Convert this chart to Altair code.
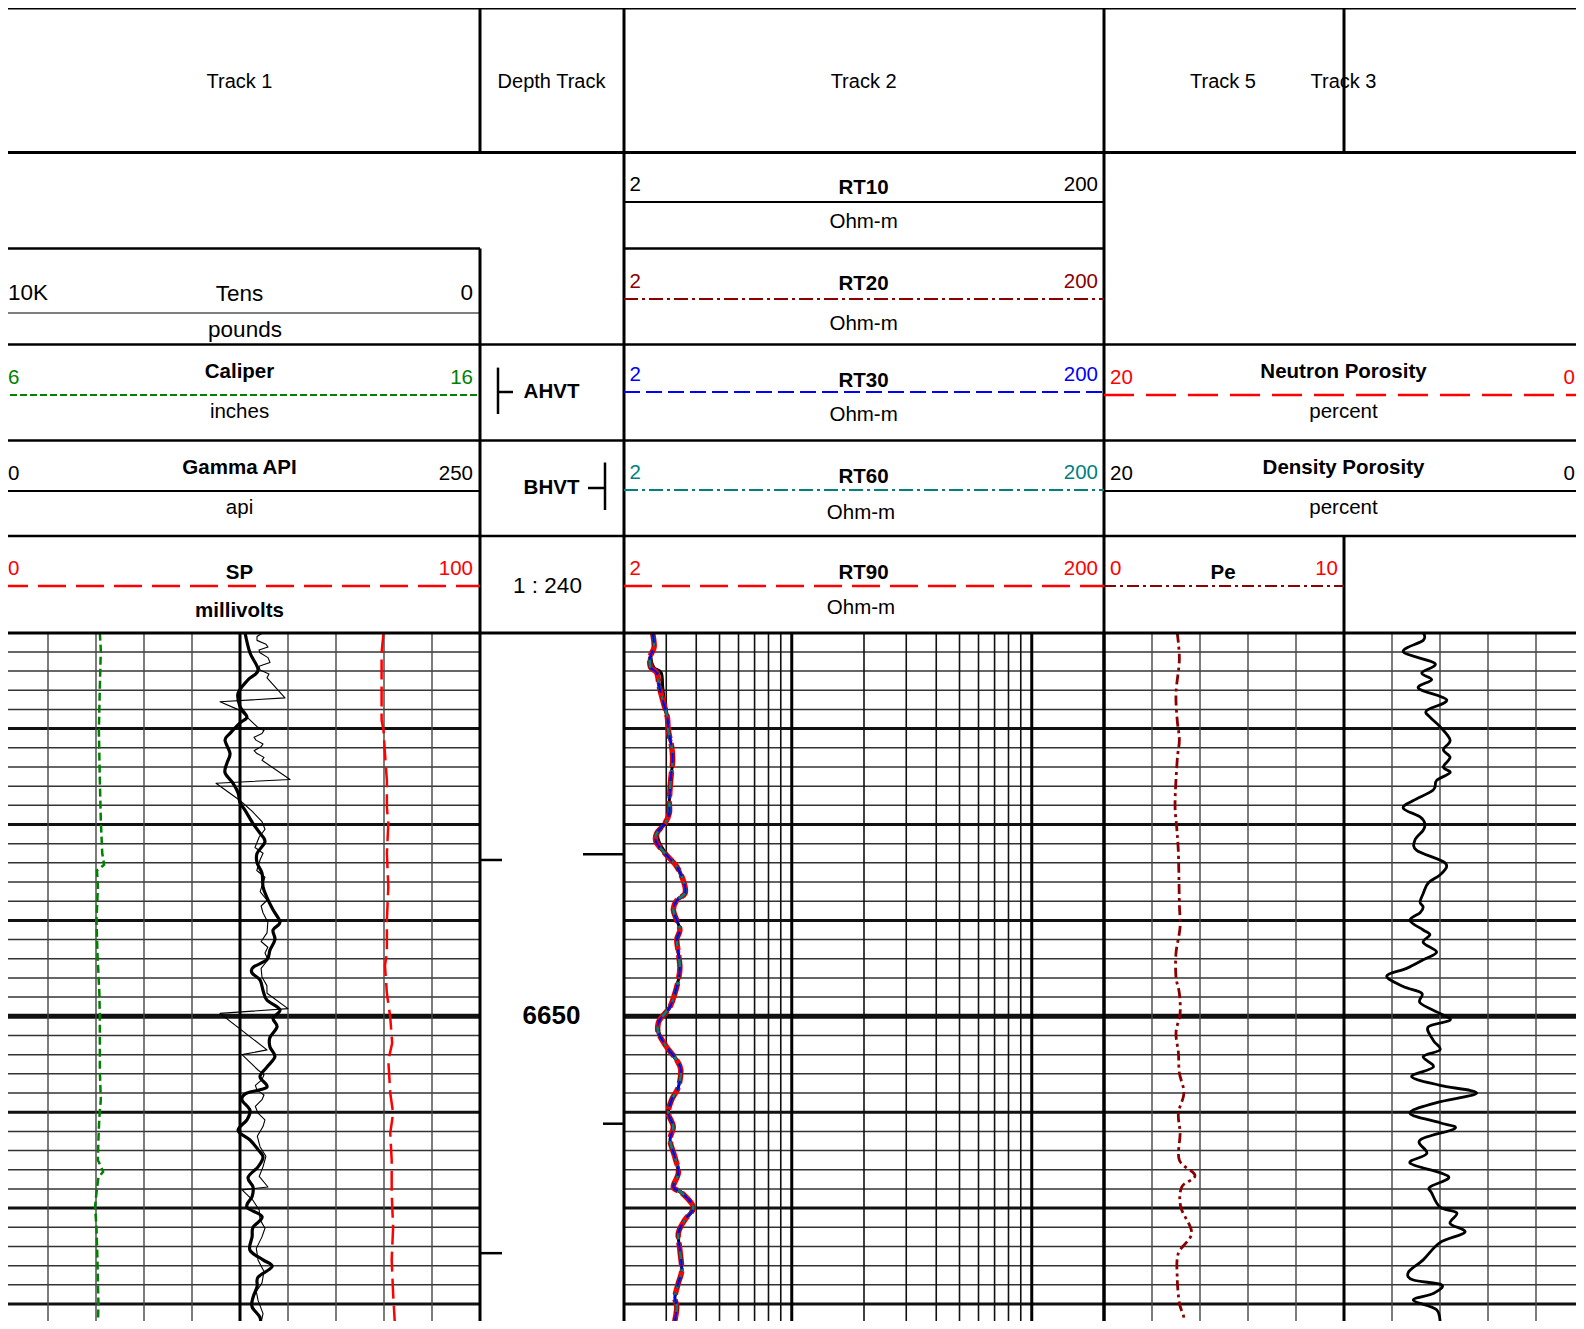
import altair as alt
import pandas as pd

# ---------------- page layout (reference pixels; page margin offset) ----------------
OFF = 8
W, H = 1568, 1313
FONT = "Liberation Sans"


def L(v):
    return v - OFF


BODY_TOP = 632.7
PX_PER_FT = 9.59

GREEN, RED, DARKRED, BLUE, TEAL = "#008000", "#ff0000", "#8b0000", "#0000ff", "#008080"

# ---------------- data: depths (ft) and curve values ----------------
rt_depth = [6610.0, 6611.5, 6612.5, 6613.6, 6614.2, 6615.7, 6617.3, 6618.8, 6620.2, 6621.9,
            6623.3, 6625.4, 6627.5, 6628.8, 6629.9, 6630.9, 6631.8, 6633.0, 6634.4, 6636.1,
            6637.2, 6637.9, 6638.9, 6640.0, 6641.0, 6642.0, 6643.4, 6644.9, 6646.2, 6647.6,
            6649.0, 6650.1, 6650.7, 6651.7, 6653.2, 6654.6, 6655.6, 6657.4, 6658.7, 6660.1,
            6661.5, 6662.9, 6664.7, 6666.3, 6667.8, 6668.4, 6669.9, 6671.2, 6672.6, 6674.4,
            6676.5, 6677.8, 6679.3, 6680.3, 6681.7, 6682.4]
rt90 = [2.63, 2.67, 2.57, 2.58, 2.74, 2.81, 2.92, 3.03, 3.06, 3.16,
        3.19, 3.13, 3.09, 3.09, 2.96, 2.74, 2.72, 2.96, 3.32, 3.56,
        3.59, 3.32, 3.21, 3.32, 3.42, 3.32, 3.37, 3.42, 3.37, 3.26,
        3.11, 2.87, 2.78, 2.78, 3.01, 3.32, 3.45, 3.37, 3.16, 3.06,
        3.21, 3.11, 3.26, 3.37, 3.21, 3.48, 3.89, 3.59, 3.37, 3.42,
        3.48, 3.37, 3.26, 3.32, 3.26, 3.21]
rt10 = [2.63, 2.67, 2.59, 2.66, 2.86, 2.90, 2.95, 3.03, 3.06, 3.16,
        3.19, 3.13, 3.09, 3.09, 2.96, 2.77, 2.80, 2.99, 3.32, 3.56,
        3.59, 3.32, 3.21, 3.32, 3.42, 3.32, 3.37, 3.42, 3.37, 3.26,
        3.11, 2.89, 2.80, 2.80, 3.01, 3.32, 3.45, 3.37, 3.16, 3.06,
        3.21, 3.11, 3.26, 3.37, 3.21, 3.48, 3.89, 3.59, 3.37, 3.42,
        3.48, 3.37, 3.26, 3.32, 3.26, 3.21]

gr_depth = [6610.0, 6612.1, 6613.9, 6614.9, 6616.3, 6617.7, 6618.8, 6619.4, 6620.5, 6621.2,
            6622.6, 6623.6, 6624.6, 6625.7, 6626.7, 6627.7, 6628.5, 6629.9, 6630.9, 6631.8,
            6633.0, 6634.0, 6635.1, 6636.5, 6637.6, 6638.9, 6640.2, 6641.0, 6642.0, 6643.1,
            6644.1, 6644.9, 6645.5, 6646.2, 6647.3, 6648.3, 6649.3, 6650.2, 6651.1, 6652.2,
            6653.2, 6654.2, 6655.3, 6656.3, 6657.4, 6658.0, 6658.7, 6659.8, 6660.8, 6661.9,
            6662.9, 6663.9, 6664.7, 6665.7, 6666.8, 6667.8, 6668.8, 6669.9, 6670.9, 6672.0,
            6673.0, 6674.4, 6675.4, 6676.1, 6677.2, 6678.2, 6679.3, 6680.3, 6681.4, 6682.4]
gamma = [127.6, 130.2, 134.4, 129.2, 124.0, 125.0, 128.6, 125.0, 119.8, 117.2,
         119.8, 118.2, 117.2, 121.4, 124.0, 125.0, 127.6, 131.8, 135.4, 138.0,
         133.9, 133.9, 136.5, 137.0, 139.0, 142.2, 145.8, 142.2, 143.2, 140.6,
         139.0, 131.8, 131.3, 135.4, 137.0, 139.0, 145.8, 142.2, 144.3, 140.6,
         140.6, 143.2, 139.0, 135.4, 139.0, 128.6, 126.0, 130.2, 128.6, 124.0,
         130.2, 134.4, 137.0, 134.4, 129.2, 131.8, 131.3, 128.6, 136.5, 131.8,
         131.3, 130.2, 137.0, 141.7, 134.4, 133.9, 131.8, 131.3, 135.4, 135.4]

tens_depth = [6610.0, 6610.4, 6610.8, 6611.2, 6611.5, 6611.8, 6612.1, 6612.6, 6613.1, 6613.5,
              6613.9, 6614.3, 6614.7, 6616.8, 6617.2, 6618.1, 6618.8, 6619.3, 6619.8, 6620.2,
              6620.5, 6620.9, 6621.2, 6621.6, 6621.9, 6622.3, 6622.6, 6623.0, 6623.3, 6625.3,
              6625.7, 6627.5, 6628.6, 6629.7, 6630.5, 6631.3, 6632.4, 6633.0, 6633.7, 6634.8,
              6635.5, 6636.1, 6637.0, 6637.9, 6638.5, 6639.2, 6640.2, 6641.3, 6642.2, 6642.8,
              6643.4, 6644.1, 6645.0, 6645.9, 6646.8, 6647.6, 6649.2, 6649.7, 6653.5, 6654.0,
              6655.6, 6656.1, 6656.6, 6657.2, 6657.7, 6658.2, 6658.7, 6659.4, 6660.1, 6660.8,
              6661.5, 6662.5, 6663.6, 6664.6, 6665.7, 6666.7, 6667.8, 6668.1, 6669.2, 6670.2,
              6671.2, 6672.1, 6673.0, 6674.2, 6675.4, 6676.6, 6677.8, 6678.7, 6679.6, 6681.0,
              6682.4]
tens = [4521, 4646, 4646, 4458, 4417, 4604, 4583, 4417, 4375, 4604,
        4583, 4396, 4437, 4063, 5417, 5000, 4854, 4750, 4646, 4500,
        4542, 4708, 4667, 4521, 4563, 4708, 4646, 4500, 4542, 3958,
        5500, 5000, 4750, 4542, 4480, 4600, 4688, 4520, 4583, 4650,
        4480, 4521, 4580, 4437, 4560, 4521, 4420, 4437, 4560, 4420,
        4479, 4417, 4560, 4542, 4440, 4437, 4000, 5417, 4437, 4958,
        4625, 4500, 4542, 4680, 4646, 4500, 4542, 4680, 4625, 4480,
        4521, 4640, 4583, 4460, 4521, 4600, 4417, 4958, 4729, 4600,
        4583, 4480, 4542, 4660, 4625, 4500, 4542, 4660, 4625, 4520,
        4583]

cal_depth = [6610.0, 6611.8, 6615.7, 6620.2, 6625.4, 6629.5, 6633.0, 6634.2, 6634.8, 6636.5,
             6640.0, 6643.4, 6647.6, 6650.1, 6655.6, 6658.7, 6660.5, 6662.9, 6665.0, 6666.2,
             6666.8, 6668.4, 6669.9, 6672.0, 6675.4, 6679.9, 6682.4]
caliper = [8.08, 8.10, 8.08, 8.06, 8.08, 8.10, 8.13, 8.17, 8.02, 8.04,
           8.01, 8.03, 8.07, 8.08, 8.08, 8.10, 8.07, 8.05, 8.04, 8.15,
           8.05, 8.01, 7.98, 8.01, 8.03, 8.05, 8.04]

sp_depth = [6610.0, 6612.1, 6619.1, 6620.2, 6622.6, 6625.4, 6628.2, 6629.9, 6633.0, 6636.5,
            6640.0, 6643.4, 6644.7, 6647.6, 6650.1, 6652.8, 6654.6, 6658.0, 6660.1, 6662.2,
            6665.0, 6668.4, 6672.0, 6675.4, 6678.9, 6682.4]
sp = [79.9, 79.5, 79.5, 79.9, 80.2, 80.6, 80.6, 80.9, 80.6, 80.9,
      80.6, 80.6, 80.2, 80.6, 81.3, 81.7, 80.9, 81.3, 81.9, 81.3,
      81.6, 81.6, 81.9, 81.6, 81.9, 82.3]

pe_depth = [6610.0, 6612.8, 6616.3, 6619.1, 6621.2, 6623.3, 6627.8, 6630.3, 6633.0, 6638.2,
            6640.7, 6643.4, 6645.9, 6647.6, 6649.7, 6651.7, 6653.8, 6655.9, 6658.0, 6660.1,
            6662.2, 6665.0, 6666.6, 6667.8, 6669.9, 6672.6, 6674.7, 6677.2, 6679.9, 6681.5,
            6682.4]
pe = [3.05, 3.14, 3.00, 3.05, 3.14, 3.05, 2.96, 3.03, 3.10, 3.14,
      3.17, 3.00, 3.00, 3.14, 3.17, 3.00, 3.10, 3.14, 3.33, 3.10,
      3.17, 3.14, 3.79, 3.24, 3.20, 3.65, 3.10, 3.05, 3.14, 3.33,
      3.17]

den_depth = [6610.0, 6610.8, 6612.0, 6613.2, 6614.2, 6614.9, 6615.8, 6617.0, 6618.1, 6618.8,
             6619.8, 6621.2, 6622.2, 6623.0, 6624.0, 6624.6, 6625.4, 6626.4, 6627.5, 6628.3,
             6629.2, 6629.9, 6630.6, 6631.6, 6632.7, 6634.0, 6635.1, 6636.1, 6637.2, 6638.1,
             6638.6, 6639.2, 6640.0, 6641.0, 6641.5, 6642.3, 6643.3, 6644.1, 6645.0, 6645.8,
             6646.9, 6647.6, 6648.6, 6649.7, 6650.4, 6651.1, 6652.5, 6653.5, 6654.2, 6655.3,
             6656.3, 6657.2, 6658.0, 6659.0, 6660.1, 6661.1, 6661.7, 6662.9, 6664.3, 6665.3,
             6666.3, 6666.9, 6667.8, 6668.4, 6669.9, 6670.5, 6671.6, 6672.5, 6673.6, 6675.4,
             6676.7, 6677.5, 6678.0, 6678.9, 6679.6, 6680.6, 6682.4]
density = [6.70, 6.70, 7.53, 6.21, 6.76, 6.35, 6.90, 5.72, 6.55, 6.42,
           6.00, 5.58, 5.86, 5.58, 5.86, 5.58, 6.14, 6.28, 7.11, 7.53,
           6.83, 6.63, 6.70, 7.04, 6.97, 5.79, 5.93, 6.49, 6.70, 6.83,
           6.70, 6.83, 7.25, 6.70, 6.42, 6.70, 6.14, 6.70, 7.39, 8.22,
           7.53, 6.76, 6.83, 6.00, 5.58, 6.49, 6.28, 6.00, 6.70, 6.28,
           7.18, 6.00, 4.47, 6.14, 7.25, 6.00, 5.38, 6.83, 6.55, 7.25,
           6.00, 5.65, 6.42, 6.35, 6.00, 5.30, 5.58, 4.96, 6.00, 6.70,
           7.32, 7.11, 5.93, 6.28, 7.11, 6.14, 6.00]

ahvt_ticks = [6633.7, 6674.7]
bhvt_major = [6633.1]
bhvt_minor = [6661.2]
depth_label = [6650]

# grid tick values
grid_minor_depths = [6612, 6614, 6616, 6618, 6622, 6624, 6626, 6628, 6632, 6634, 6636, 6638,
                     6642, 6644, 6646, 6648, 6652, 6654, 6656, 6658, 6662, 6664, 6666, 6668,
                     6672, 6674, 6676, 6678, 6682]
grid_major_depths = [6620, 6630, 6640, 6660, 6670, 6680]
grid_bold_depths = [6650]
t1_thin = [1, 2, 3, 4, 6, 7, 8, 9]
t1_thick = [5, 10]
t2_thin = [3, 4, 5, 6, 7, 8, 9, 20, 30, 40, 50, 60, 70, 80, 90]
t2_thick = [2, 10, 100, 200]
t5_thin = [2, 4, 6, 8]
t5_thick = [0, 10]
t3_thin = [8, 6, 4, 2]

# ---------------- scales ----------------
depth_scale = alt.Scale(domain=[6610, 6680], range=[L(BODY_TOP), L(BODY_TOP + 70 * PX_PER_FT)],
                        nice=False, zero=False)


def lin(dom, r0, r1):
    return alt.Scale(type="linear", domain=dom, range=[L(r0), L(r1)], nice=False, zero=False)


t1_grid_scale = lin([0, 10], 0, 480)
cal_scale = lin([6, 16], 0, 480)
gr_scale = lin([0, 250], 0, 480)
sp_scale = lin([0, 100], 0, 480)
tens_scale = lin([10000, 0], 0, 480)
rt_scale = alt.Scale(type="log", domain=[2, 200], range=[L(624), L(1104)], nice=False)
pe_scale = lin([0, 10], 1104, 1344)
den_scale = lin([20, 0], 1104, 1584)

layers = []


def curve(depths, vals, scale, color, width, dash=None, interp="linear"):
    df = pd.DataFrame({"depth": depths, "v": vals})
    kw = dict(color=color, strokeWidth=width, interpolate=interp, strokeJoin="round")
    if dash:
        kw["strokeDash"] = dash
    return alt.Chart(df).mark_line(**kw).encode(
        x=alt.X("v:Q", scale=scale, axis=None),
        y=alt.Y("depth:Q", scale=depth_scale, axis=None),
        order=alt.Order("depth:Q"),
    )


def vgrid(vals, scale, width, color="#222222"):
    df = pd.DataFrame({"v": vals})
    return alt.Chart(df).mark_rule(color=color, strokeWidth=width).encode(
        x=alt.X("v:Q", scale=scale, axis=None),
        y=alt.value(L(BODY_TOP)),
        y2=alt.value(H + 20),
    )


def hgrid(depths, x1, x2, width, color="#111111"):
    df = pd.DataFrame({"depth": depths})
    return alt.Chart(df).mark_rule(color=color, strokeWidth=width).encode(
        y=alt.Y("depth:Q", scale=depth_scale, axis=None),
        x=alt.value(L(x1)),
        x2=alt.value(L(x2)),
    )


# ---- body grid ----
for x1, x2 in [(0, 480), (624, 1584)]:
    layers.append(hgrid(grid_minor_depths, x1, x2, 1.5, "#333333"))
    layers.append(hgrid(grid_major_depths, x1, x2, 3))
    layers.append(hgrid(grid_bold_depths, x1, x2, 5))

layers.append(vgrid(t1_thin, t1_grid_scale, 1.4, "#444444"))
layers.append(vgrid(t1_thick, t1_grid_scale, 3, "#000000"))
layers.append(vgrid(t2_thin, rt_scale, 1.6, "#111111"))
layers.append(vgrid(t2_thick, rt_scale, 3, "#000000"))
layers.append(vgrid(t5_thin, pe_scale, 1.4, "#444444"))
layers.append(vgrid(t5_thick, pe_scale, 3, "#000000"))
layers.append(vgrid(t3_thin, den_scale, 1.4, "#444444"))

# ---- body curves ----
layers.append(curve(cal_depth, caliper, cal_scale, GREEN, 2.5, [8, 4]))
layers.append(curve(sp_depth, sp, sp_scale, RED, 2.5, [20, 7]))
layers.append(curve(tens_depth, tens, tens_scale, "#000000", 1.1))
layers.append(curve(gr_depth, gamma, gr_scale, "#000000", 3.2, None, "cardinal"))
layers.append(curve(rt_depth, rt10, rt_scale, "#000000", 3, None, "cardinal"))
layers.append(curve(rt_depth, rt90, rt_scale, RED, 5.5, [24, 5], "cardinal"))
layers.append(curve(rt_depth, rt90, rt_scale, DARKRED, 4, [14, 4, 3, 4], "cardinal"))
layers.append(curve(rt_depth, rt90, rt_scale, TEAL, 2.6, [14, 4, 3, 4], "cardinal"))
layers.append(curve(rt_depth, rt90, rt_scale, BLUE, 2, [10, 8], "cardinal"))
layers.append(curve(pe_depth, pe, pe_scale, DARKRED, 2.8, [10, 4, 3, 4], "cardinal"))
layers.append(curve(den_depth, density, den_scale, "#000000", 2.8, None, "cardinal"))


# ---- depth track ticks and label ----
def dticks(depths, x1, x2):
    df = pd.DataFrame({"depth": depths})
    return alt.Chart(df).mark_rule(color="black", strokeWidth=2.5).encode(
        y=alt.Y("depth:Q", scale=depth_scale, axis=None),
        x=alt.value(L(x1)), x2=alt.value(L(x2)))


layers.append(dticks(ahvt_ticks, 480, 502))
layers.append(dticks(bhvt_major, 583, 624))
layers.append(dticks(bhvt_minor, 603, 624))
layers.append(alt.Chart(pd.DataFrame({"depth": depth_label})).mark_text(
    font=FONT, fontWeight="bold", fontSize=26, align="center", baseline="middle"
).encode(y=alt.Y("depth:Q", scale=depth_scale, axis=None), x=alt.value(L(551.5)),
         text=alt.Text("depth:Q", format="d")))

# ---------------- header layout ----------------
hlines = pd.DataFrame([
    (8, 0, 1584, 3), (152.5, 0, 1584, 3),
    (248.5, 0, 480, 2.5), (248.5, 624, 1104, 2.5),
    (313, 0, 480, 1.2),
    (344.5, 0, 1584, 2.5), (440.5, 0, 1584, 2.5), (536, 0, 1584, 2.5), (633, 0, 1584, 3),
    (202, 624, 1104, 2), (491, 0, 480, 2.2), (491, 1104, 1584, 2),
    (392, 498, 513, 2.5), (488, 588, 605, 2.5),
], columns=["y", "x1", "x2", "w"])
vlines = pd.DataFrame([
    (480, 8, 152.5, 3), (480, 248.5, 633, 3), (624, 8, 633, 3), (1104, 8, 633, 3),
    (1344, 8, 152.5, 3), (1344, 536, 633, 3),
    (498, 367.6, 414, 2.5), (605, 462.5, 510, 2.5),
], columns=["x", "y1", "y2", "w"])
for c in ["y", "x1", "x2"]:
    hlines[c] = hlines[c] - OFF
for c in ["x", "y1", "y2"]:
    vlines[c] = vlines[c] - OFF

layers.append(alt.Chart(hlines).mark_rule(color="black").encode(
    x=alt.X("x1:Q", scale=None), x2="x2:Q", y=alt.Y("y:Q", scale=None),
    strokeWidth=alt.StrokeWidth("w:Q", scale=None)))
layers.append(alt.Chart(vlines).mark_rule(color="black").encode(
    x=alt.X("x:Q", scale=None), y=alt.Y("y1:Q", scale=None), y2="y2:Q",
    strokeWidth=alt.StrokeWidth("w:Q", scale=None)))


# dashed legend lines
def legend_line(x1, x2, y, color, width, dash):
    return alt.Chart(pd.DataFrame({"k": [0]})).mark_rule(
        color=color, strokeWidth=width, strokeDash=dash).encode(
        x=alt.value(L(x1)), x2=alt.value(L(x2)), y=alt.value(L(y)))


layers.append(legend_line(0, 480, 395, GREEN, 2.2, [7, 3]))
layers.append(legend_line(0, 480, 586, RED, 2.5, [28, 10]))
layers.append(legend_line(624, 1104, 299, DARKRED, 2.2, [14, 4, 3, 4]))
layers.append(legend_line(624, 1104, 392, BLUE, 2.2, [16, 6]))
layers.append(legend_line(624, 1104, 490, TEAL, 2.2, [14, 4, 3, 4]))
layers.append(legend_line(624, 1104, 586, RED, 2.5, [28, 10]))
layers.append(legend_line(1104, 1584, 395, RED, 2.5, [30, 12]))
layers.append(legend_line(1104, 1344, 586, DARKRED, 2.2, [12, 4, 3, 4]))

# header texts
S = 20.5
BIG = 22.5
titles = [("Track 1", 239.5, 81.6), ("Depth Track", 551.5, 81.6), ("Track 2", 863.6, 81.6),
          ("Track 5", 1223, 81.6), ("Track 3", 1343.5, 81.6)]
center_normal = [
    ("Tens", 239.5, 294, "black", BIG), ("pounds", 245, 330, "black", BIG),
    ("inches", 239.5, 412, "black", S), ("api", 239.5, 508, "black", S),
    ("1 : 240", 547.5, 586, "black", BIG),
    ("Ohm-m", 863.6, 222, "black", S), ("Ohm-m", 863.6, 324, "black", S),
    ("Ohm-m", 863.6, 415, "black", S), ("Ohm-m", 861, 513, "black", S),
    ("Ohm-m", 861, 608, "black", S),
    ("percent", 1343.5, 412, "black", S), ("percent", 1343.5, 508, "black", S),
]
center_bold = [
    ("Caliper", 239.5, 371.6), ("Gamma API", 239.5, 467.6), ("SP", 239.5, 572.6),
    ("millivolts", 239.5, 611), ("AHVT", 551.5, 392), ("BHVT", 551.5, 488),
    ("RT10", 863.6, 188), ("RT20", 863.6, 284), ("RT30", 863.6, 380.8),
    ("RT60", 863.6, 476.7), ("RT90", 863.6, 572.6),
    ("Neutron Porosity", 1343.5, 371.6), ("Density Porosity", 1343.5, 467.6),
    ("Pe", 1223, 572.6),
]
left_normal = [
    ("10K", 8, 293, "black", BIG), ("6", 8, 377.7, GREEN, S), ("0", 8, 473.6, "black", S),
    ("0", 8, 568.6, RED, S),
    ("2", 629.5, 185, "black", S), ("2", 629.5, 282, DARKRED, S), ("2", 629.5, 374.7, BLUE, S),
    ("2", 629.5, 472.6, TEAL, S), ("2", 629.5, 568.6, RED, S),
    ("20", 1110, 377.7, RED, S), ("20", 1110, 473.6, "black", S), ("0", 1110, 568.6, RED, S),
]
right_normal = [
    ("0", 473, 293, "black", BIG), ("16", 473, 377.7, GREEN, S), ("250", 473, 473.6, "black", S),
    ("100", 473, 568.6, RED, S),
    ("200", 1098, 185, "black", S), ("200", 1098, 282, DARKRED, S), ("200", 1098, 374.7, BLUE, S),
    ("200", 1098, 472.6, TEAL, S), ("200", 1098, 568.6, RED, S),
    ("0", 1575, 377.7, RED, S), ("0", 1575, 473.6, "black", S), ("10", 1338, 568.6, RED, S),
]


def text_layer(rows, align, weight, font, default_size=S):
    recs = []
    for r in rows:
        if len(r) == 3:
            t, x, y = r
            c, s = "black", default_size
        else:
            t, x, y, c, s = r
        recs.append({"t": t, "x": L(x), "y": L(y), "c": c, "s": s})
    df = pd.DataFrame(recs)
    return alt.Chart(df).mark_text(align=align, baseline="middle", font=font,
                                   fontWeight=weight).encode(
        x=alt.X("x:Q", scale=None), y=alt.Y("y:Q", scale=None), text="t:N",
        color=alt.Color("c:N", scale=None), size=alt.Size("s:Q", scale=None))


layers.append(text_layer(titles, "center", "normal", FONT, 20))
layers.append(text_layer(center_normal, "center", "normal", FONT))
layers.append(text_layer(center_bold, "center", "bold", FONT))
layers.append(text_layer(left_normal, "left", "normal", FONT))
layers.append(text_layer(right_normal, "right", "normal", FONT))

chart = alt.layer(*layers).resolve_scale(x="independent", y="independent").properties(
    width=W, height=H, autosize=alt.AutoSizeParams(type="none"), padding=0
).configure_view(stroke=None)

chart.save("out.html", embed_options={"renderer": "svg", "actions": False})
